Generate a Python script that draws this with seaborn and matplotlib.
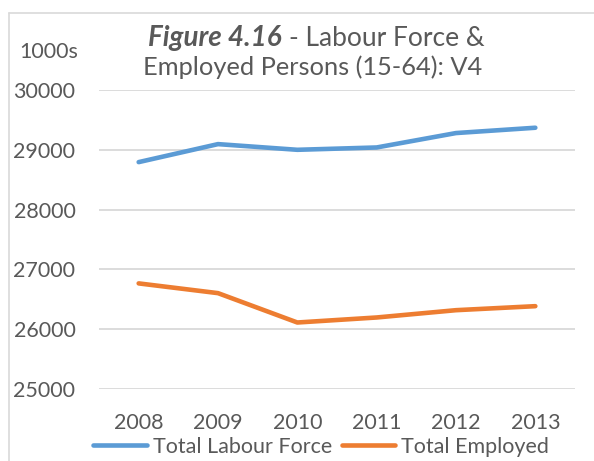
import matplotlib
matplotlib.use("Agg")
import matplotlib.pyplot as plt
import seaborn as sns
import pandas as pd
from matplotlib.lines import Line2D

years = ["2008", "2009", "2010", "2011", "2012", "2013"]
labour_force = [28794, 29095, 29000, 29039, 29280, 29369]
employed = [26766, 26603, 26112, 26196, 26318, 26385]
series_names = ["Total Labour Force", "Total Employed"]
y_ticks = [25000, 26000, 27000, 28000, 29000, 30000]
colors = ["#5B9BD5", "#ED7D31"]

df = pd.DataFrame({
    "Year": years * 2,
    "Value": labour_force + employed,
    "Series": [series_names[0]] * len(years) + [series_names[1]] * len(years),
})

sns.set_style("white")
plt.rcParams["font.family"] = ["Lato", "DejaVu Sans"]
txt = "#595959"

fig = plt.figure(figsize=(5.94, 4.61), dpi=100)
ax = fig.add_axes([99/594, 1-389/461, (575-99)/594, (389-90)/461])

sns.lineplot(data=df, x="Year", y="Value", hue="Series", palette=colors,
             linewidth=3.3, ax=ax, legend=False, sort=False)
for l in ax.lines:
    l.set_solid_capstyle("round")
    l.set_solid_joinstyle("round")

ax.set_xlim(-0.5, len(years) - 0.5)
ax.set_ylim(25000, 30000)
ax.set_yticks(y_ticks)
ax.set_yticklabels([str(v) for v in y_ticks])
ax.set_xlabel("")
ax.set_ylabel("")
ax.grid(axis="y", color="#D9D9D9", linewidth=1.3)
ax.set_axisbelow(True)
for s in ax.spines.values():
    s.set_visible(False)
ax.tick_params(axis="both", length=0, labelsize=15.5, labelcolor=txt)
ax.tick_params(axis="y", pad=17)
ax.tick_params(axis="x", pad=17)

# title
fig.text(281/594, 1-38/461, "Figure 4.16", ha="right", va="center",
         fontsize=20, fontweight="bold", fontstyle="italic", color=txt)
fig.text(289/594, 1-38/461, "- Labour Force &", ha="left", va="center",
         fontsize=19, color=txt)
fig.text(313/594, 1-67/461, "Employed Persons (15-64): V4", ha="center", va="center",
         fontsize=18.3, color=txt)
fig.text(19/594, 1-52/461, "1000s", ha="left", va="center", fontsize=15.5, color=txt)

handles = [Line2D([0], [0], color=c, linewidth=3.3) for c in colors]
fig.legend(handles, series_names, loc="center", bbox_to_anchor=(321/594, 1-447/461),
           ncol=2, frameon=False, fontsize=15.5, labelcolor=txt,
           handlelength=2.5, handletextpad=0.28, columnspacing=0.45,
           borderaxespad=0, borderpad=0)

# chart border
fig.add_artist(Line2D([9/594, 9/594], [0, 1-13/461], color="#D9D9D9", linewidth=1.2,
                      transform=fig.transFigure))
fig.add_artist(Line2D([9/594, 1], [1-13/461, 1-13/461], color="#D9D9D9", linewidth=1.2,
                      transform=fig.transFigure))

fig.savefig("out.png", dpi=100)
